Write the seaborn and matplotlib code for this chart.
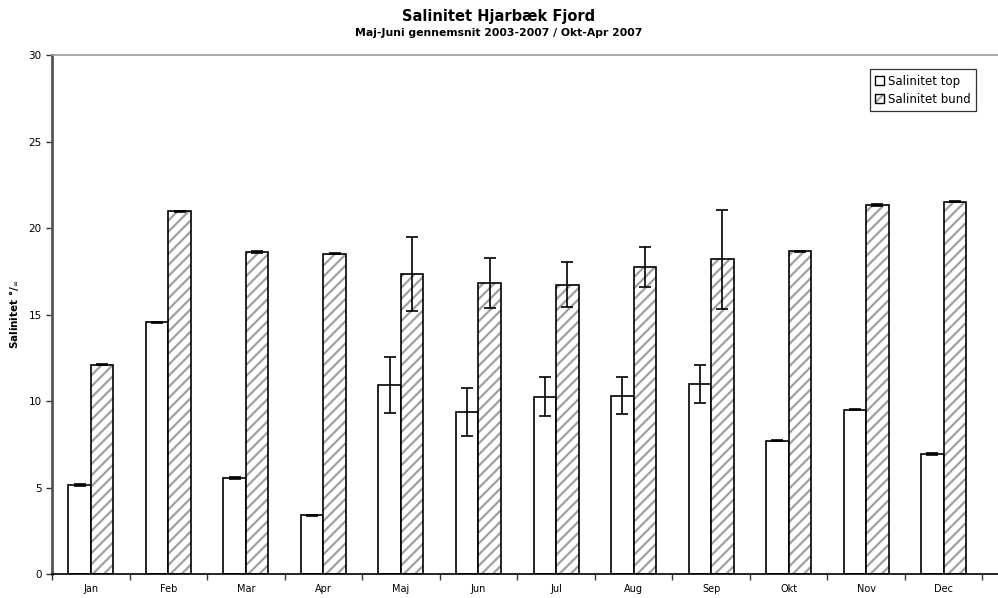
import numpy as np
import pandas as pd
import matplotlib
matplotlib.use("Agg")
import matplotlib.pyplot as plt
from matplotlib.patches import Rectangle
import seaborn as sns

# ---------- DATA ----------
months = ["Jan", "Feb", "Mar", "Apr", "Maj", "Jun", "Jul", "Aug", "Sep", "Okt", "Nov", "Dec"]
sal_top = [5.15, 14.55, 5.55, 3.4, 10.92, 9.36, 10.25, 10.31, 10.98, 7.7, 9.5, 6.95]
sal_top_err = [0.05, 0.03, 0.05, 0.03, 1.63, 1.38, 1.12, 1.05, 1.12, 0.03, 0.03, 0.05]
sal_bund = [12.1, 20.97, 18.62, 18.5, 17.34, 16.82, 16.72, 17.76, 18.19, 18.67, 21.32, 21.52]
sal_bund_err = [0.04, 0.04, 0.04, 0.03, 2.16, 1.42, 1.31, 1.16, 2.88, 0.03, 0.04, 0.04]
series = ["Salinitet top", "Salinitet bund"]

df = pd.DataFrame({
    "month": months * 2,
    "serie": [series[0]] * len(months) + [series[1]] * len(months),
    "value": sal_top + sal_bund,
    "err": sal_top_err + sal_bund_err,
})

HATCH_GRAY = "#a0a0a0"

# ---------- STYLE ----------
sns.set_style("white")
plt.rcParams["font.family"] = ["DejaVu Sans"]
plt.rcParams["hatch.linewidth"] = 1.6
plt.rcParams["text.color"] = "black"
plt.rcParams["axes.labelcolor"] = "black"
plt.rcParams["xtick.color"] = "black"
plt.rcParams["ytick.color"] = "black"

fig = plt.figure(figsize=(9.98, 5.98), dpi=100)
ax = fig.add_axes([0.0521, 0.0401, 0.9479, 0.8679])

sns.barplot(data=df, x="month", y="value", hue="serie", order=months,
            hue_order=series, width=0.58, errorbar=None,
            palette=["white", "white"], edgecolor="black", linewidth=1.2,
            legend=False, ax=ax)

n = len(months)
top_patches = ax.patches[:n]
bund_patches = ax.patches[n:2 * n]

# hatched fill for the bottom series, outline drawn separately in black
for p in bund_patches:
    p.set_hatch("///")
    p.set_edgecolor(HATCH_GRAY)
    p.set_linewidth(0)
    outline = Rectangle((p.get_x(), p.get_y()), p.get_width(), p.get_height(),
                        fill=False, edgecolor="black", linewidth=1.2, zorder=3)
    ax.add_patch(outline)

# error bars
for patches, vals, errs in [(top_patches, sal_top, sal_top_err),
                            (bund_patches, sal_bund, sal_bund_err)]:
    xs = [p.get_x() + p.get_width() / 2 for p in patches]
    ax.errorbar(xs, vals, yerr=errs, fmt="none", ecolor="black",
                elinewidth=1.2, capsize=4, capthick=1.2, zorder=4)

# ---------- AXES ----------
ax.set_ylim(0, 30)
ax.set_xlim(-0.5, 11.7)
ax.set_yticks(range(0, 31, 5))
ax.set_xticks(range(n))
ax.set_xticklabels(months)
ax.set_xticks(np.arange(-0.5, n, 1), minor=True)
ax.tick_params(axis="x", which="major", length=0, labelsize=7, pad=7)
ax.tick_params(axis="x", which="minor", length=4, direction="out",
               width=1, color="#333333", bottom=True)
ax.tick_params(axis="y", length=4, direction="out", width=1, left=True,
               labelsize=7.5, color="#333333")

ax.spines["left"].set_color("#555555")
ax.spines["left"].set_linewidth(2)
ax.spines["bottom"].set_color("black")
ax.spines["bottom"].set_linewidth(1.2)
ax.spines["top"].set_color("#999999")
ax.spines["top"].set_linewidth(1.2)
ax.spines["right"].set_visible(False)

ax.set_xlabel("")
ax.set_ylabel("Salinitet °/$_\\infty$", fontsize=7.5, fontweight="bold", labelpad=5)

fig.text(0.5, 0.972, "Salinitet Hjarbæk Fjord", ha="center", va="center",
         fontsize=10.5, fontweight="bold")
fig.text(0.5, 0.944, "Maj-Juni gennemsnit 2003-2007 / Okt-Apr 2007", ha="center",
         va="center", fontsize=7.8, fontweight="bold")

# ---------- LEGEND ----------
h_top = Rectangle((0, 0), 1, 1, facecolor="white", edgecolor="black", linewidth=1)
h_bund_fill = Rectangle((0, 0), 1, 1, facecolor="white", edgecolor=HATCH_GRAY,
                        linewidth=0, hatch="///")
h_bund_edge = Rectangle((0, 0), 1, 1, fill=False, edgecolor="black", linewidth=1)
leg = fig.legend([h_top, (h_bund_fill, h_bund_edge)], series, loc="upper right",
                 bbox_to_anchor=(0.978, 0.884), fontsize=8.5, frameon=True,
                 fancybox=False, edgecolor="black", handlelength=0.8,
                 handleheight=0.8, handletextpad=0.3, borderpad=0.45,
                 labelspacing=0.45, borderaxespad=0)
leg.get_frame().set_linewidth(0.9)

plt.savefig("out.png", dpi=100)
plt.close()
